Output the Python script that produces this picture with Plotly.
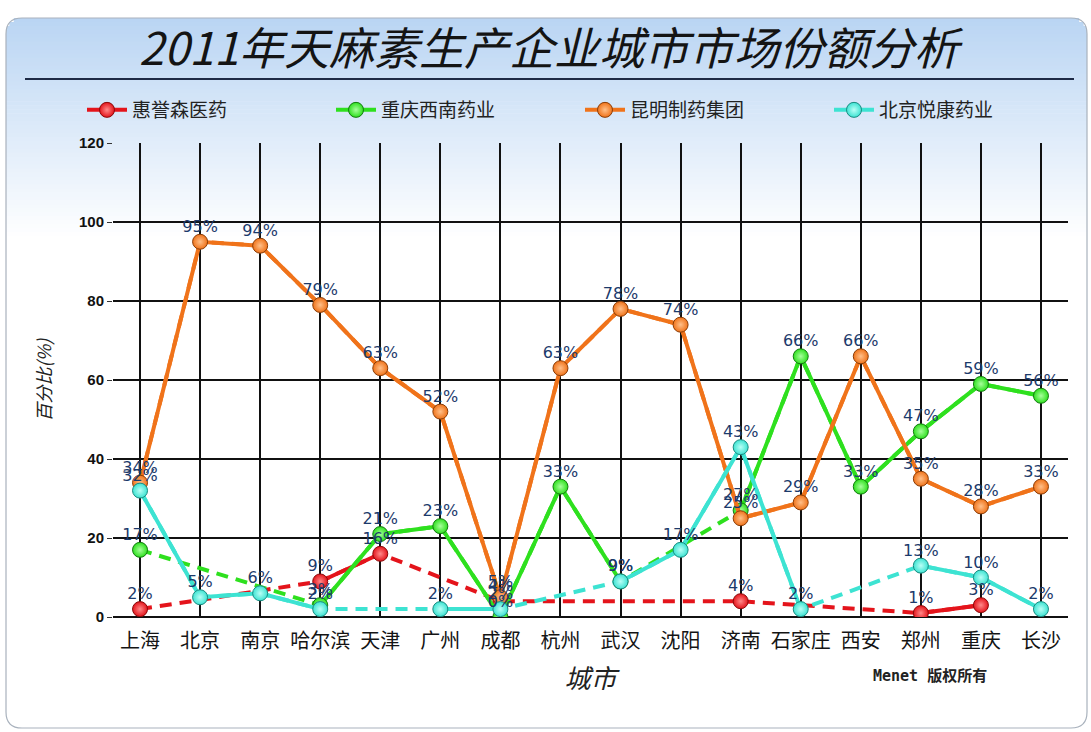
import plotly.graph_objects as go

cities = ['上海', '北京', '南京', '哈尔滨', '天津', '广州', '成都', '杭州',
          '武汉', '沈阳', '济南', '石家庄', '西安', '郑州', '重庆', '长沙']
red_vals = [2, None, None, 9, 16, None, 4, None, None, None, 4, None, None, 1, 3, None]
green_vals = [17, None, None, 3, 21, 23, 0, 33, 9, None, 27, 66, 33, 47, 59, 56]
orange_vals = [34, 95, 94, 79, 63, 52, 5, 63, 78, 74, 25, 29, 66, 35, 28, 33]
cyan_vals = [32, 5, 6, 2, None, 2, 2, None, 9, 17, 43, 2, None, 13, 10, 2]

series_names = ['惠誉森医药', '重庆西南药业', '昆明制药集团', '北京悦康药业']
series_vals = [red_vals, green_vals, orange_vals, cyan_vals]
series_colors = ['#e4141b', '#2ee01e', '#f0731a', '#3de3d2']
edge_colors = ['#8a0a0a', '#137a10', '#8a3d08', '#1a8a80']
center_colors = ['#ff8a8a', '#a8ff9c', '#ffc08a', '#b8fff6']

title_text = '2011年天麻素生产企业城市市场份额分析'
y_ticks = [0, 20, 40, 60, 80, 100, 120]

W, H = 1091, 732
L, R, T, B = 113, 1068, 143, 617


def px_x(px):
    return (px - L) / (R - L)


def px_y(py):
    return (B - py) / (B - T)


CJK = 'Noto Sans CJK SC, Liberation Sans, sans-serif'

fig = go.Figure()

for name, vals, col, ec, cc in zip(series_names, series_vals, series_colors, edge_colors, center_colors):
    # dashed bridge over gaps
    fig.add_trace(go.Scatter(
        x=cities, y=vals, mode='lines', connectgaps=True, showlegend=False,
        line=dict(color=col, width=4, dash='12px,8px'), hoverinfo='skip'))
    fig.add_trace(go.Scatter(
        x=cities, y=vals, mode='lines+markers', connectgaps=False, name=name,
        line=dict(color=col, width=4),
        marker=dict(size=15, color=col, line=dict(color=ec, width=1),
                    gradient=dict(type='radial', color=cc))))

for vals in series_vals:
    fig.add_trace(go.Scatter(
        x=cities, y=vals, mode='markers+text', showlegend=False, hoverinfo='skip',
        marker=dict(size=8, color='rgba(0,0,0,0)'),
        text=[(f'{v}%' if v is not None else None) for v in vals],
        textposition='top center',
        textfont=dict(family='DejaVu Sans, sans-serif', size=16, color='#1c3a6b')))

shapes = []
# panel gradient strips with rounded top corners
x0p, x1p, y0p, y1p, rad = 6, 1087, 18, 728, 16
g_top, g_bot = 18, 240
n = 56
c0 = (186, 213, 243)
for i in range(n):
    ya = g_top + (g_bot - g_top) * i / n
    yb = g_top + (g_bot - g_top) * (i + 1) / n + 0.6
    f = i / (n - 1)
    c = tuple(int(round(c0[k] + (255 - c0[k]) * f)) for k in range(3))
    dy = (ya + yb) / 2 - y0p
    inset = 0
    if dy < rad:
        inset = rad - (rad ** 2 - (rad - dy) ** 2) ** 0.5
    shapes.append(dict(type='rect', xref='paper', yref='paper', layer='below',
                       x0=px_x(x0p + inset), x1=px_x(x1p - inset), y0=px_y(yb), y1=px_y(ya),
                       fillcolor='rgb(%d,%d,%d)' % c, line=dict(width=0)))

# rounded border path
def P(x, y):
    return f'{px_x(x):.5f},{px_y(y):.5f}'

path = (f'M {P(x0p + rad, y0p)} L {P(x1p - rad, y0p)} Q {P(x1p, y0p)} {P(x1p, y0p + rad)} '
        f'L {P(x1p, y1p - rad)} Q {P(x1p, y1p)} {P(x1p - rad, y1p)} '
        f'L {P(x0p + rad, y1p)} Q {P(x0p, y1p)} {P(x0p, y1p - rad)} '
        f'L {P(x0p, y0p + rad)} Q {P(x0p, y0p)} {P(x0p + rad, y0p)} Z')
shapes.append(dict(type='path', path=path, xref='paper', yref='paper', layer='below',
                   line=dict(color='#a9b2bd', width=1.2), fillcolor='rgba(0,0,0,0)'))
# title underline
shapes.append(dict(type='line', xref='paper', yref='paper', layer='above',
                   x0=px_x(25), x1=px_x(1074), y0=px_y(79), y1=px_y(79),
                   line=dict(color='#1e2a45', width=2)))

annotations = [
    dict(text=title_text, xref='paper', yref='paper', x=px_x(551), y=px_y(45),
         xanchor='center', yanchor='middle', showarrow=False,
         font=dict(family=CJK, size=45, color='#141414', style='italic')),
    dict(text='<b>Menet 版权所有</b>', xref='paper', yref='paper', x=px_x(930), y=px_y(676),
         xanchor='center', yanchor='middle', showarrow=False,
         font=dict(family='DejaVu Sans Mono, Noto Sans CJK SC', size=15, color='#222222')),
]

fig.update_layout(
    width=W, height=H,
    margin=dict(l=L, r=W - R, t=T, b=H - B, pad=0),
    paper_bgcolor='white', plot_bgcolor='rgba(0,0,0,0)',
    shapes=shapes, annotations=annotations,
    showlegend=True,
    legend=dict(orientation='h', x=px_x(82), y=px_y(110), xanchor='left', yanchor='middle',
                entrywidth=194, entrywidthmode='pixels', bgcolor='rgba(0,0,0,0)',
                font=dict(family=CJK, size=19, color='#222222'), itemwidth=40),
    xaxis=dict(type='category', range=[-0.45, 15.45], showgrid=True, gridcolor='#111111', gridwidth=2,
               showline=False, ticks='outside', ticklen=6, tickcolor='rgba(0,0,0,0)', zeroline=False,
               tickfont=dict(family=CJK, size=20, color='#141414'),
               title=dict(text='城市', font=dict(family=CJK, size=26, color='#222222', style='italic'),
                          standoff=16)),
    yaxis=dict(range=[0, 120], tickvals=y_ticks, showgrid=True, gridcolor='#111111', gridwidth=2,
               zeroline=True, zerolinecolor='#111111', zerolinewidth=2,
               ticks='outside', ticklen=5, tickcolor='#333333', tickwidth=1,
               tickfont=dict(family='Liberation Sans, Arial', size=15, color='#111111', weight='bold'),
               title=dict(text='百分比(%)', font=dict(family=CJK, size=18, color='#222222', style='italic'),
                          standoff=22)),
)

fig.write_html('out.html', config={'displayModeBar': False},
               post_script="document.body.style.margin='0';")
